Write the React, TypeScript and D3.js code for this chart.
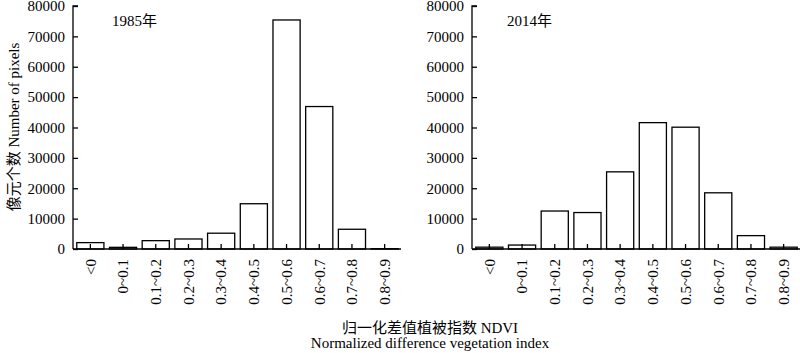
import React, { useEffect, useRef } from 'react';
import * as d3 from 'd3';

const width = 800;
const height = 353;

const categories = ['<0', '0~0.1', '0.1~0.2', '0.2~0.3', '0.3~0.4', '0.4~0.5', '0.5~0.6', '0.6~0.7', '0.7~0.8', '0.8~0.9'];
const values1985 = [2100, 550, 2750, 3300, 5200, 14900, 75400, 46900, 6500, 100];
const values2014 = [600, 1300, 12500, 12000, 25400, 41600, 40100, 18500, 4400, 600];
const yTicks = [0, 10000, 20000, 30000, 40000, 50000, 60000, 70000, 80000];

const serif = "'Liberation Serif', 'Times New Roman', 'Noto Sans CJK SC', serif";

const panels = [
  { title: '1985年', values: values1985, axisX: 73, range: [74, 401], titleX: 112 },
  { title: '2014年', values: values2014, axisX: 472, range: [473, 800], titleX: 507 },
];

const App = () => {
  const svgRef = useRef<SVGSVGElement>(null);

  useEffect(() => {
    const svg = d3.select(svgRef.current);
    svg.selectAll('*').remove();

    const yScale = d3.scaleLinear().domain([0, 80000]).range([249, 6]);

    panels.forEach((p) => {
      const g = svg.append('g');
      const xScale = d3.scaleBand<string>()
        .domain(categories)
        .range(p.range as [number, number])
        .paddingInner(0.17)
        .paddingOuter(0.085);

      // bars
      g.selectAll('.bar')
        .data(p.values)
        .enter().append('rect')
        .attr('x', (_d, i) => xScale(categories[i])!)
        .attr('y', (d) => yScale(d))
        .attr('width', xScale.bandwidth())
        .attr('height', (d) => yScale(0) - yScale(d))
        .attr('fill', 'white')
        .attr('stroke', 'black')
        .attr('stroke-width', 1.3);

      // y axis (ticks inward)
      const yAxis = g.append('g')
        .attr('transform', `translate(${p.axisX},0)`)
        .call(d3.axisRight(yScale).tickValues(yTicks).tickSize(5).tickFormat(() => ''));
      yAxis.select('.domain').attr('stroke-width', 1.3).attr('d', `M5,${yScale(80000)}H0V${yScale(0)}`);
      yAxis.selectAll('line').attr('stroke-width', 1.3);
      g.selectAll('.ylab')
        .data(yTicks)
        .enter().append('text')
        .attr('x', p.axisX - 8)
        .attr('y', (d) => yScale(d))
        .attr('dy', '0.35em')
        .attr('text-anchor', 'end')
        .attr('font-family', serif)
        .attr('font-size', 15)
        .text((d) => String(d));

      // x axis (ticks inward at band centers)
      g.append('line')
        .attr('x1', p.axisX).attr('x2', p.range[1])
        .attr('y1', yScale(0)).attr('y2', yScale(0))
        .attr('stroke', 'black').attr('stroke-width', 1.3);
      g.selectAll('.xt')
        .data(categories)
        .enter().append('line')
        .attr('x1', (d) => xScale(d)! + xScale.bandwidth() / 2)
        .attr('x2', (d) => xScale(d)! + xScale.bandwidth() / 2)
        .attr('y1', yScale(0)).attr('y2', yScale(0) - 5)
        .attr('stroke', 'black').attr('stroke-width', 1.3);
      g.selectAll('.xlab')
        .data(categories)
        .enter().append('text')
        .attr('transform', (d) => `translate(${xScale(d)! + xScale.bandwidth() / 2},259) rotate(-90)`)
        .attr('dy', '0.35em')
        .attr('text-anchor', 'end')
        .attr('font-family', serif)
        .attr('font-size', 15)
        .text((d) => d);

      g.append('text')
        .attr('x', p.titleX)
        .attr('y', 26)
        .attr('font-family', serif)
        .attr('font-size', 15)
        .text(p.title);
    });

    svg.append('text')
      .attr('transform', 'translate(19,127) rotate(-90)')
      .attr('text-anchor', 'middle')
      .attr('font-family', serif)
      .attr('font-size', 15)
      .text('像元个数  Number of pixels');

    svg.append('text')
      .attr('x', 430).attr('y', 333)
      .attr('text-anchor', 'middle')
      .attr('font-family', serif)
      .attr('font-size', 15)
      .text('归一化差值植被指数 NDVI');

    svg.append('text')
      .attr('x', 430).attr('y', 348)
      .attr('text-anchor', 'middle')
      .attr('font-family', serif)
      .attr('font-size', 15)
      .text('Normalized difference vegetation index');
  }, []);

  return (
    <svg ref={svgRef} width={width} height={height}
      style={{ position: 'absolute', left: 0, top: 0, background: 'white' }} />
  );
};

export default App;
